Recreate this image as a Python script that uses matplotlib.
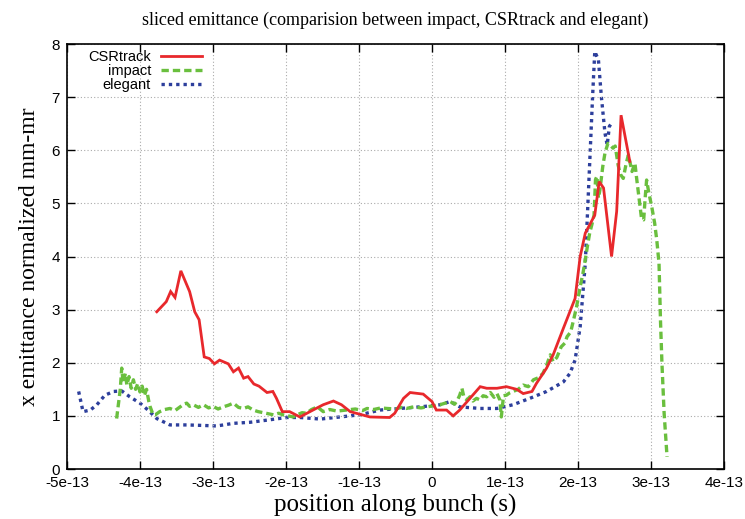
import numpy as np
import matplotlib
matplotlib.use('Agg')
import matplotlib.pyplot as plt

# positions in units of 1e-13 s, emittance in mm-mr
csr_x = [-3.77, -3.64, -3.58, -3.52, -3.44, -3.32, -3.25, -3.19, -3.12, -3.05,
         -2.98, -2.91, -2.79, -2.72, -2.65, -2.58, -2.52, -2.44, -2.37, -2.26,
         -2.18, -2.13, -2.05, -1.95, -1.81, -1.63, -1.49, -1.35, -1.24, -1.12,
         -0.85, -0.58, -0.51, -0.39, -0.30, -0.12, 0.00, 0.06, 0.20, 0.29,
         0.38, 0.52, 0.66, 0.75, 0.89, 1.02, 1.16, 1.25, 1.37, 1.43,
         1.57, 1.66, 1.80, 1.96, 2.03, 2.10, 2.23, 2.29, 2.35, 2.46,
         2.53, 2.59, 2.71]
csr_y = [2.96, 3.15, 3.34, 3.23, 3.73, 3.34, 2.96, 2.81, 2.11, 2.08,
         1.98, 2.05, 1.98, 1.83, 1.90, 1.71, 1.74, 1.60, 1.56, 1.44,
         1.46, 1.33, 1.08, 1.08, 0.98, 1.11, 1.21, 1.28, 1.21, 1.08,
         0.98, 0.97, 1.05, 1.33, 1.44, 1.41, 1.27, 1.11, 1.11, 1.00,
         1.11, 1.33, 1.55, 1.52, 1.52, 1.55, 1.50, 1.42, 1.46, 1.61,
         1.90, 2.15, 2.65, 3.21, 4.00, 4.44, 4.78, 5.41, 5.29, 4.00,
         4.85, 6.66, 5.79]

impact_x = [-4.32, -4.27, -4.25, -4.23, -4.20, -4.18, -4.15, -4.12, -4.09, -4.06,
            -4.03, -4.00, -3.97, -3.94, -3.91, -3.88, -3.86, -3.82, -3.79, -3.73,
            -3.66, -3.59, -3.52, -3.45, -3.40, -3.36, -3.32, -3.27, -3.20, -3.13,
            -3.06, -3.00, -2.93, -2.86, -2.79, -2.72, -2.65, -2.58, -2.52, -2.45,
            -2.38, -2.31, -2.24, -2.17, -2.10, -2.04, -1.97, -1.90, -1.85, -1.78,
            -1.72, -1.65, -1.57, -1.49, -1.40, -1.30, -1.17, -1.05, -0.95, -0.89,
            -0.80, -0.70, -0.62, -0.50, -0.42, -0.35, -0.25, -0.15, -0.07, 0.02,
            0.11, 0.18, 0.25, 0.31, 0.35, 0.38, 0.41, 0.44, 0.48, 0.52,
            0.56, 0.61, 0.66, 0.70, 0.75, 0.80, 0.85, 0.89, 0.93, 0.95,
            0.98, 1.02, 1.06, 1.11, 1.18, 1.25, 1.32, 1.39, 1.46, 1.52,
            1.57, 1.62, 1.66, 1.71, 1.77, 1.82, 1.85, 1.90, 1.94, 1.98,
            2.03, 2.07, 2.10, 2.13, 2.16, 2.19, 2.22, 2.24, 2.26, 2.28,
            2.30, 2.34, 2.37, 2.41, 2.44, 2.48, 2.51, 2.55, 2.58, 2.62,
            2.66, 2.69, 2.74, 2.78, 2.80, 2.84, 2.87, 2.90, 2.92, 2.94,
            2.97, 3.01, 3.05, 3.08, 3.11, 3.13, 3.15, 3.18, 3.22]
impact_y = [0.95, 1.50, 1.90, 1.62, 1.80, 1.58, 1.74, 1.52, 1.68, 1.50,
            1.61, 1.45, 1.56, 1.38, 1.50, 1.28, 1.17, 1.02, 1.02, 1.08,
            1.12, 1.14, 1.10, 1.17, 1.22, 1.24, 1.18, 1.21, 1.16, 1.21,
            1.15, 1.18, 1.13, 1.17, 1.20, 1.24, 1.16, 1.14, 1.17, 1.11,
            1.08, 1.06, 1.04, 1.02, 1.05, 1.02, 1.00, 0.98, 1.02, 1.06,
            1.05, 1.12, 1.17, 1.08, 1.12, 1.09, 1.11, 1.13, 1.10, 1.14,
            1.12, 1.15, 1.14, 1.13, 1.16, 1.14, 1.17, 1.15, 1.17, 1.19,
            1.21, 1.24, 1.27, 1.22, 1.30, 1.39, 1.52, 1.34, 1.30, 1.36,
            1.28, 1.33, 1.30, 1.38, 1.36, 1.44, 1.35, 1.42, 1.30, 0.98,
            1.38, 1.39, 1.43, 1.46, 1.50, 1.58, 1.55, 1.68, 1.72, 1.80,
            1.95, 2.15, 2.02, 2.10, 2.30, 2.37, 2.49, 2.58, 2.81, 3.05,
            3.43, 3.70, 3.94, 4.20, 4.44, 4.60, 4.78, 5.45, 5.51, 5.10,
            5.25, 5.70, 5.95, 6.13, 6.10, 6.04, 6.08, 5.72, 5.55, 5.47,
            5.75, 5.91, 5.60, 5.76, 5.51, 5.05, 4.72, 4.69, 5.10, 5.44,
            5.20, 4.94, 4.63, 4.30, 3.87, 2.80, 1.99, 1.05, 0.23]

elegant_x = [-4.84, -4.78, -4.68, -4.59, -4.48, -4.36, -4.25, -4.14, -4.00, -3.89,
             -3.77, -3.59, -3.36, -3.13, -2.95, -2.72, -2.49, -2.26, -1.99, -1.81,
             -1.53, -1.26, -0.99, -0.71, -0.44, -0.16, 0.11, 0.25, 0.38, 0.66,
             0.89, 1.11, 1.34, 1.57, 1.80, 1.89, 1.96, 2.03, 2.10, 2.16,
             2.20, 2.23, 2.28, 2.32, 2.37, 2.40, 2.43, 2.46]
elegant_y = [1.46, 1.08, 1.11, 1.21, 1.39, 1.46, 1.47, 1.36, 1.24, 1.11,
             0.95, 0.83, 0.83, 0.82, 0.81, 0.86, 0.88, 0.92, 0.97, 0.97,
             0.94, 0.98, 1.02, 1.11, 1.14, 1.17, 1.21, 1.27, 1.17, 1.14,
             1.14, 1.21, 1.33, 1.46, 1.64, 1.80, 2.05, 2.68, 3.87, 5.75,
             7.01, 7.86, 7.70, 7.01, 6.32, 6.10, 6.45, 6.51]

xticks = [-5, -4, -3, -2, -1, 0, 1, 2, 3, 4]
xtick_labels = ['-5e-13', '-4e-13', '-3e-13', '-2e-13', '-1e-13', '0',
                '1e-13', '2e-13', '3e-13', '4e-13']
yticks = [0, 1, 2, 3, 4, 5, 6, 7, 8]

plt.rcParams['font.family'] = ['Liberation Sans', 'DejaVu Sans']
serif = ['Liberation Serif', 'DejaVu Serif']

fig = plt.figure(figsize=(7.45, 5.19), dpi=100)
ax = fig.add_axes([0.0899, 0.0963, 0.8819, 0.8189])

sc = 1e-13
ax.plot(np.array(csr_x) * sc, csr_y, color='#e8282c', lw=2.0,
        solid_joinstyle='miter', label='CSRtrack', zorder=3)
ax.plot(np.array(impact_x) * sc, impact_y, color='#6abf3e', lw=2.4,
        linestyle=(0, (2.2, 1.2)), label='impact', zorder=2)
ax.plot(np.array(elegant_x) * sc, elegant_y, color='#2d3f9c', lw=2.4,
        linestyle=(0, (1, 1.2)), dash_capstyle='butt', label='elegant', zorder=1)

ax.set_xlim(-5e-13, 4e-13)
ax.set_ylim(0, 8)
ax.set_xticks(np.array(xticks) * sc)
ax.set_xticklabels(xtick_labels)
ax.set_yticks(yticks)
ax.tick_params(direction='in', length=6, width=1, top=True, right=True,
               labelsize=11, pad=5)
ax.grid(True, color='#aaaaaa', linestyle=(0, (1, 2)), linewidth=0.8)
for s in ax.spines.values():
    s.set_linewidth(1.2)

ax.set_title('sliced emittance (comparision between impact, CSRtrack and elegant)',
             family=serif, fontsize=13, pad=14)
ax.set_xlabel('position along bunch (s)', family=serif, fontsize=18, labelpad=3)
ax.set_ylabel('x emittance normalized mm-mr', family=serif, fontsize=17, labelpad=8)

# legend: text right-aligned, sample line on the right (gnuplot style)
leg = ax.legend(loc='upper right', frameon=False, markerfirst=False, fontsize=10.5,
                handlelength=2.8, handletextpad=0.7, labelspacing=0.0,
                borderpad=0, borderaxespad=0, bbox_to_anchor=(0.2055, 0.985))
for t in leg.get_texts():
    t.set_ha('right')
leg._legend_box.align = 'right'

fig.savefig('out.png', dpi=100)
